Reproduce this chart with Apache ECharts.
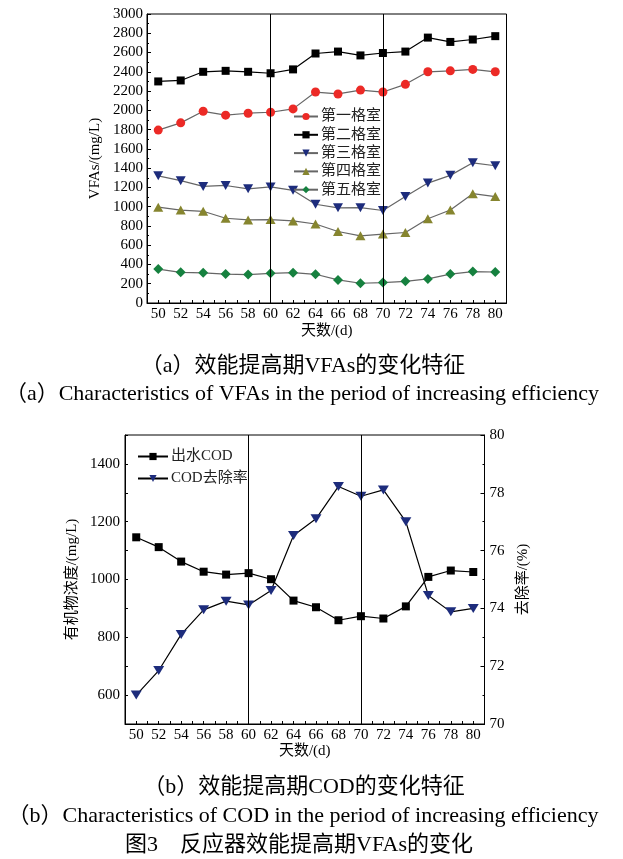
<!DOCTYPE html>
<html>
<head>
<meta charset="utf-8">
<script src="https://cdn.jsdelivr.net/npm/echarts@6/dist/echarts.min.js"></script>
<style>
html,body{margin:0;padding:0;background:#fff;}
#chart{width:623px;height:859px;}
</style>
</head>
<body>
<div id="chart"></div>
<script>
// ---- data ----
var days = [50,52,54,56,58,60,62,64,66,68,70,72,74,76,78,80];
var room1 = [1795,1870,1990,1950,1970,1980,2015,2190,2170,2210,2190,2270,2400,2410,2425,2400];
var room2 = [2300,2310,2400,2410,2400,2385,2425,2590,2610,2570,2595,2610,2755,2710,2735,2770];
var room3 = [1320,1270,1210,1220,1185,1205,1170,1025,988,990,960,1105,1245,1325,1455,1425];
var room4 = [995,965,952,880,862,866,852,820,742,697,715,732,875,965,1135,1105];
var room5 = [352,318,313,300,295,308,315,298,240,205,212,225,250,300,326,322];
var codOut = [1146,1112,1062,1027,1017,1022,1001,927,904,859,873,865,907,1009,1031,1026];
var codRemoval = [71.0,71.85,73.1,73.95,74.25,74.12,74.62,76.52,77.1,78.22,77.88,78.1,77.0,74.45,73.88,74.0];
var periodBreaks = [60, 70];
var roomNames = ['第一格室','第二格室','第三格室','第四格室','第五格室'];
var codNames = ['出水COD','COD去除率'];
var captionA1 = '（a）效能提高期VFAs的变化特征';
var captionA2 = '（a）Characteristics of VFAs in the period of increasing efficiency';
var captionB1 = '（b）效能提高期COD的变化特征';
var captionB2 = '（b）Characteristics of COD in the period of increasing efficiency';
var captionFig = '图3　反应器效能提高期VFAs的变化';

// ---- helpers ----
var FONT = "'Liberation Serif','Times New Roman','Noto Sans CJK SC',serif";
function pairs(vals){ return days.map(function(d,i){ return [d, vals[i]]; }); }
var triDown = 'path://M0,0 L10,0 L5,8.66 Z';
var plain = function(v){ return String(v); };
var evenLabel = function(v){ return (v % 2 === 0 && v >= 50 && v <= 80) ? String(v) : ''; };
var markLines = {
  symbol: 'none', silent: true, animation: false,
  label: {show: false},
  lineStyle: {color: '#000', type: 'solid', width: 1},
  data: periodBreaks.map(function(d){ return {xAxis: d}; })
};
function xAxisCfg(gridIndex, gap){
  return {
    gridIndex: gridIndex, type: 'value', min: 49, max: 81, interval: 1,
    name: '天数/(d)', nameLocation: 'middle', nameGap: gap,
    nameTextStyle: {fontFamily: FONT, fontSize: 15, color: '#000'},
    axisLine: {show: true, lineStyle: {color: '#000', width: 1}},
    axisTick: {show: true, inside: true, length: 3, lineStyle: {color: '#000'}},
    axisLabel: {formatter: evenLabel, fontFamily: FONT, fontSize: 15, color: '#000', margin: 4, showMinLabel: true, showMaxLabel: true},
    splitLine: {show: false}
  };
}
function caption(text, x, y){
  return {type: 'text', x: x, y: y, style: {text: text, fontFamily: FONT, fontSize: 22, fill: '#000', align: 'center', verticalAlign: 'middle'}};
}

var chart = echarts.init(document.getElementById('chart'), null, {renderer: 'canvas'});
var option = {
  animation: false,
  backgroundColor: '#fff',
  grid: [
    {left: 147, top: 14, width: 359.5, height: 289, show: true, borderColor: '#000', borderWidth: 1, backgroundColor: 'transparent', containLabel: false},
    {left: 125, top: 435, width: 359.5, height: 289, show: true, borderColor: '#000', borderWidth: 1, backgroundColor: 'transparent', containLabel: false}
  ],
  xAxis: [xAxisCfg(0, 21), xAxisCfg(1, 20)],
  yAxis: [
    {
      gridIndex: 0, type: 'value', min: 0, max: 3000, interval: 200,
      name: 'VFAs/(mg/L)', nameLocation: 'middle', nameGap: 39,
      nameTextStyle: {fontFamily: FONT, fontSize: 15, color: '#000'},
      axisLine: {show: true, lineStyle: {color: '#000'}},
      axisTick: {show: true, inside: true, length: 4, lineStyle: {color: '#000'}},
      minorTick: {show: true, splitNumber: 2, length: 2, lineStyle: {color: '#000'}},
      axisLabel: {fontFamily: FONT, fontSize: 15, color: '#000', margin: 4, formatter: plain},
      splitLine: {show: false}
    },
    {
      gridIndex: 1, type: 'value', min: 500, max: 1500, interval: 100,
      name: '有机物浓度/(mg/L)', nameLocation: 'middle', nameGap: 37,
      nameTextStyle: {fontFamily: FONT, fontSize: 15, color: '#000'},
      axisLine: {show: true, lineStyle: {color: '#000'}},
      axisTick: {show: true, inside: true, length: 3, lineStyle: {color: '#000'}},
      axisLabel: {fontFamily: FONT, fontSize: 15, color: '#000', margin: 5,
        formatter: function(v){ return (v % 200 === 0 && v >= 600 && v <= 1400) ? String(v) : ''; }},
      splitLine: {show: false}
    },
    {
      gridIndex: 1, type: 'value', min: 70, max: 80, interval: 2, position: 'right',
      name: '去除率/(%)', nameLocation: 'middle', nameGap: 28, nameRotate: 90,
      nameTextStyle: {fontFamily: FONT, fontSize: 15, color: '#000'},
      axisLine: {show: true, lineStyle: {color: '#000'}},
      axisTick: {show: true, inside: true, length: 4, lineStyle: {color: '#000'}},
      minorTick: {show: true, splitNumber: 2, length: 2, lineStyle: {color: '#000'}},
      axisLabel: {fontFamily: FONT, fontSize: 15, color: '#000', margin: 5, formatter: plain},
      splitLine: {show: false}
    }
  ],
  legend: [
    {
      data: roomNames, orient: 'vertical', left: 293, top: 109, itemGap: 3.3,
      itemWidth: 24, itemHeight: 9, padding: 0,
      textStyle: {fontFamily: FONT, fontSize: 15, color: '#222', padding: [0, 0, 0, -2]}
    },
    {
      data: codNames, orient: 'vertical', left: 137, top: 449, itemGap: 7,
      itemWidth: 30, itemHeight: 9, padding: 0,
      textStyle: {fontFamily: FONT, fontSize: 15, color: '#222', padding: [0, 0, 0, -2]}
    }
  ],
  series: [
    {name: roomNames[0], type: 'line', xAxisIndex: 0, yAxisIndex: 0, data: pairs(room1),
     symbol: 'circle', symbolSize: 9, itemStyle: {color: '#ec2a26'}, lineStyle: {color: '#666', width: 1.2},
     markLine: markLines},
    {name: roomNames[1], type: 'line', xAxisIndex: 0, yAxisIndex: 0, data: pairs(room2),
     symbol: 'rect', symbolSize: 8, itemStyle: {color: '#000'}, lineStyle: {color: '#000', width: 1.2}},
    {name: roomNames[2], type: 'line', xAxisIndex: 0, yAxisIndex: 0, data: pairs(room3),
     symbol: triDown, symbolSize: [10, 9], itemStyle: {color: '#1d2c7c'}, lineStyle: {color: '#666', width: 1.2}},
    {name: roomNames[3], type: 'line', xAxisIndex: 0, yAxisIndex: 0, data: pairs(room4),
     symbol: 'triangle', symbolSize: [10, 9], itemStyle: {color: '#86852f'}, lineStyle: {color: '#666', width: 1.2}},
    {name: roomNames[4], type: 'line', xAxisIndex: 0, yAxisIndex: 0, data: pairs(room5),
     symbol: 'diamond', symbolSize: 10, itemStyle: {color: '#16813f'}, lineStyle: {color: '#666', width: 1.2}},
    {name: codNames[0], type: 'line', xAxisIndex: 1, yAxisIndex: 1, data: pairs(codOut),
     symbol: 'rect', symbolSize: 8, itemStyle: {color: '#000'}, lineStyle: {color: '#000', width: 1.2},
     markLine: markLines},
    {name: codNames[1], type: 'line', xAxisIndex: 1, yAxisIndex: 2, data: pairs(codRemoval),
     symbol: triDown, symbolSize: [11, 9], itemStyle: {color: '#1d2c7c'}, lineStyle: {color: '#000', width: 1.2}}
  ],
  graphic: [
    caption(captionA1, 303, 366),
    caption(captionA2, 302, 394),
    caption(captionB1, 304, 787),
    caption(captionB2, 303, 816),
    caption(captionFig, 299, 845)
  ]
};
chart.setOption(option);
</script>
</body>
</html>
